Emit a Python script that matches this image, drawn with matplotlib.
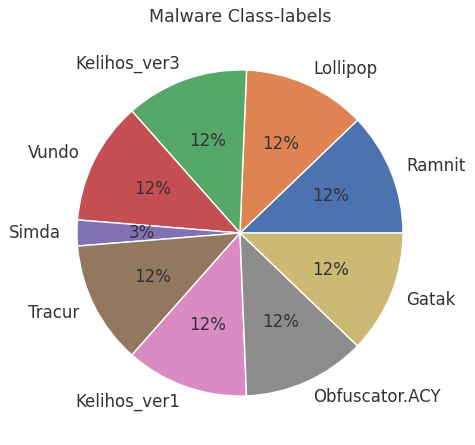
import matplotlib
matplotlib.use("Agg")
import matplotlib.pyplot as plt
import seaborn as sns

labels = ['Ramnit', 'Lollipop', 'Kelihos_ver3', 'Vundo', 'Simda',
          'Tracur', 'Kelihos_ver1', 'Obfuscator.ACY', 'Gatak']
counts = [200, 200, 200, 200, 42, 200, 200, 200, 200]

sns.set_theme()
colors = sns.color_palette('deep', len(labels))

fig = plt.figure(figsize=(4.75, 4.45), dpi=100)
ax = fig.add_axes([0, 0, 1, 1])
ax.pie(counts, labels=labels, colors=colors, autopct='%.0f%%',
       textprops={'fontsize': 12, 'color': '#333333'},
       wedgeprops={'edgecolor': 'white', 'linewidth': 1})

# place the pie: centre ~(240, 233) px, radius ~163 px
s = 163.0
ax.set_xlim(-240 / s, (475 - 240) / s)
ax.set_ylim(-(445 - 233) / s, 233 / s)
ax.set_aspect('equal', adjustable='box')
ax.axis('off')

fig.text(240 / 475, 1 - 17 / 445, 'Malware Class-labels', ha='center',
         va='center', fontsize=12.5, color='#333333')
fig.patch.set_facecolor('white')
fig.savefig('out.png', dpi=100, facecolor='white')
